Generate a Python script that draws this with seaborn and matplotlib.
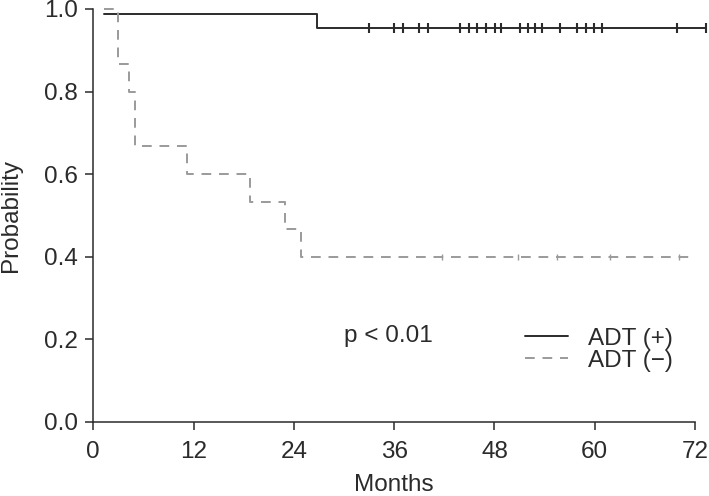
import numpy as np
import pandas as pd
import seaborn as sns
import matplotlib.pyplot as plt

# Kaplan-Meier style curves
pos_start, pos_end = 1.3, 73.3
pos_event_times = [26.8]
pos_levels = [0.987, 0.954]
pos_censor = [33.0, 36.0, 37.1, 39.0, 40.1, 43.9, 44.9, 45.9, 47.0, 48.1, 48.8,
              51.0, 52.0, 52.9, 53.7, 55.9, 57.9, 59.0, 59.9, 60.9, 69.9, 73.3]

neg_start, neg_end = 1.3, 71.7
neg_event_times = [2.9, 4.3, 5.0, 11.2, 18.8, 22.9, 24.8]
neg_levels = [1.0, 0.867, 0.8, 0.667, 0.6, 0.533, 0.467, 0.4]
neg_censor = [41.7, 50.8, 55.5, 61.8, 70.1]

x_ticks = [0, 12, 24, 36, 48, 60, 72]
y_ticks = [0.0, 0.2, 0.4, 0.6, 0.8, 1.0]


def steps(start, end, times, levels):
    x = [start] + list(times) + [end]
    y = list(levels) + [levels[-1]]
    return pd.DataFrame({"Months": x, "Probability": y})


def level_at(t, times, levels):
    return levels[np.searchsorted(times, t, side="right")]


sns.set_style("ticks")
plt.rcParams["font.family"] = ["Liberation Sans", "DejaVu Sans"]
plt.rcParams["font.size"] = 17.5

fig = plt.figure(figsize=(7.09, 4.96), dpi=100)
ax = fig.add_axes([0.1316, 0.1498, 0.8487, 0.8321])

dark = "#2b2b2b"
grey = "#9a9a9a"

pos = steps(pos_start, pos_end, pos_event_times, pos_levels)
neg = steps(neg_start, neg_end, neg_event_times, neg_levels)

sns.lineplot(data=pos, x="Months", y="Probability", drawstyle="steps-post",
             estimator=None, sort=False, color=dark, lw=1.4, ax=ax,
             label="ADT (+)", clip_on=False)
sns.lineplot(data=neg, x="Months", y="Probability", drawstyle="steps-post",
             estimator=None, sort=False, color=grey, lw=1.4, ax=ax,
             label="ADT (\u2212)", dashes=False, linestyle=(0, (5, 4)),
             clip_on=False)

pos_c = pd.DataFrame({"t": pos_censor,
                      "p": [level_at(t, pos_event_times, pos_levels) for t in pos_censor]})
neg_c = pd.DataFrame({"t": neg_censor,
                      "p": [level_at(t, neg_event_times, neg_levels) for t in neg_censor]})
sns.scatterplot(data=pos_c, x="t", y="p", marker="|", s=60, linewidth=1.5,
                color=dark, ax=ax, clip_on=False, legend=False)
sns.scatterplot(data=neg_c, x="t", y="p", marker="|", s=18, linewidth=1.0,
                color=grey, ax=ax, clip_on=False, legend=False)

ax.set_xlim(0, 72)
ax.set_ylim(0, 1.0)
ax.set_xticks(x_ticks)
ax.set_yticks(y_ticks)
ax.set_yticklabels([f"{v:.1f}" for v in y_ticks])
ax.set_xlabel("Months", color=dark)
ax.set_ylabel("Probability", color=dark)
ax.xaxis.set_label_coords(0.5, -0.127)
ax.yaxis.set_label_coords(-0.118, 0.5)
ax.tick_params(direction="out", length=6, width=1.1, colors=dark, labelsize=17.5)
ax.tick_params(axis="x", pad=8)
ax.tick_params(axis="y", pad=5)
sns.despine(ax=ax)
for s in ["left", "bottom"]:
    ax.spines[s].set_linewidth(1.1)
    ax.spines[s].set_color(dark)

ax.text(30.0, 0.208, "p < 0.01", fontsize=17.5, color=dark, va="center", ha="left")

leg = ax.legend(loc="center left", bbox_to_anchor=(0.717, 0.174), frameon=False,
                borderpad=0, borderaxespad=0, handlelength=1.8, handletextpad=0.8,
                labelspacing=0.0, fontsize=17.5)
for t in leg.get_texts():
    t.set_color(dark)

fig.savefig("out.png", dpi=100)
